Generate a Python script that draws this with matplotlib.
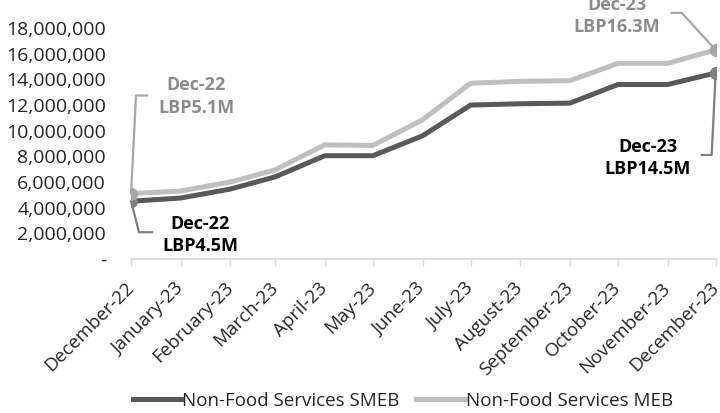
import matplotlib
matplotlib.use('Agg')
import matplotlib.pyplot as plt
import matplotlib.dates as mdates
import matplotlib.ticker as mticker
import numpy as np
import datetime as dt

# monthly series (LBP)
months = ['December-22', 'January-23', 'February-23', 'March-23', 'April-23', 'May-23',
          'June-23', 'July-23', 'August-23', 'September-23', 'October-23', 'November-23',
          'December-23']
dates = [dt.date(2022, 12, 1)] + [dt.date(2023, m, 1) for m in range(1, 13)]
smeb = [4.5e6, 4.75e6, 5.45e6, 6.4e6, 8.05e6, 8.05e6, 9.6e6, 12.0e6, 12.1e6, 12.15e6,
        13.6e6, 13.6e6, 14.5e6]
meb = [5.1e6, 5.3e6, 6.0e6, 6.95e6, 8.9e6, 8.85e6, 10.85e6, 13.7e6, 13.85e6, 13.9e6,
       15.25e6, 15.25e6, 16.3e6]

series_names = ['Non-Food Services SMEB', 'Non-Food Services MEB']
colors = ['#595959', '#bfbfbf']

plt.rcParams['font.family'] = ['Open Sans', 'DejaVu Sans']

fig = plt.figure(figsize=(7.2, 4.13), dpi=100)
ax = fig.add_axes([0.182, 0.373, 0.812, 0.559])

x = mdates.date2num(dates)
ax.plot(x, smeb, color=colors[0], lw=3.6, label=series_names[0], zorder=3)
ax.plot(x, meb, color=colors[1], lw=3.6, label=series_names[1], zorder=2)

# end markers
ax.plot([x[0], x[-1]], [meb[0], meb[-1]], 'o', color='#a6a6a6', ms=8.5, zorder=5)
ax.plot([x[0], x[-1]], [smeb[0], smeb[-1]], 'o', color='#7f7f7f', ms=8.5, zorder=4)


# callout label with a leader line, offsets in pixels from the data point
def callout(xv, yv, text, tcolor, lcolor, path, toff):
    pts = ax.transData.transform((xv, yv))
    xs = [pts[0] + p[0] for p in path]
    ys = [pts[1] + p[1] for p in path]
    ax.plot(xs, ys, color=lcolor, lw=1.6, transform=None, zorder=1, clip_on=False)
    k = 72 / 100
    ax.annotate(text, xy=(xv, yv), xytext=(toff[0] * k, toff[1] * k), textcoords='offset points',
                ha='center', va='center', fontsize=13, fontweight='bold', color=tcolor,
                linespacing=1.3, annotation_clip=False)


ax.set_xlim(x[0], x[-1])
ax.set_ylim(0, 18e6)
fig.canvas.draw()

callout(x[0], meb[0], 'Dec-22\nLBP5.1M', '#8c8c8c', '#a6a6a6',
        [(0, 0), (5, 98), (16, 98)], (65, 97))
callout(x[0], smeb[0], 'Dec-22\nLBP4.5M', '#000000', '#7f7f7f',
        [(0, 0), (8, -31), (21, -31)], (69, -34))
callout(x[-1], meb[-1], 'Dec-23\nLBP16.3M', '#8c8c8c', '#a6a6a6',
        [(0, 0), (-34, 37), (-44, 37)], (-99, 34))
callout(x[-1], smeb[-1], 'Dec-23\nLBP14.5M', '#000000', '#7f7f7f',
        [(0, 0), (-4, -82), (-14, -82)], (-68, -85))

ax.set_yticks(np.arange(0, 18e6 + 1, 2e6))
ax.yaxis.set_major_formatter(mticker.FuncFormatter(lambda v, p: '-' if v == 0 else '{:,.0f}'.format(v)))
ax.set_xticks(x)
ax.set_xticklabels(months, rotation=45, ha='right', va='center', rotation_mode='anchor')
ax.tick_params(axis='y', length=0, pad=18, labelsize=14, labelcolor='#262626')
ax.tick_params(axis='x', length=5, width=1, color='#d9d9d9', pad=14, labelsize=13.5, labelcolor='#262626')

for s in ['top', 'right', 'left']:
    ax.spines[s].set_visible(False)
ax.spines['bottom'].set_color('#d9d9d9')
ax.spines['bottom'].set_linewidth(1.2)

ax.legend(loc='center', bbox_to_anchor=(0.465, -0.615), ncol=2, frameon=False, fontsize=13.5,
          handlelength=2.6, handletextpad=0.05, columnspacing=0.9, labelcolor='#262626')

fig.savefig('out.png', dpi=100)
